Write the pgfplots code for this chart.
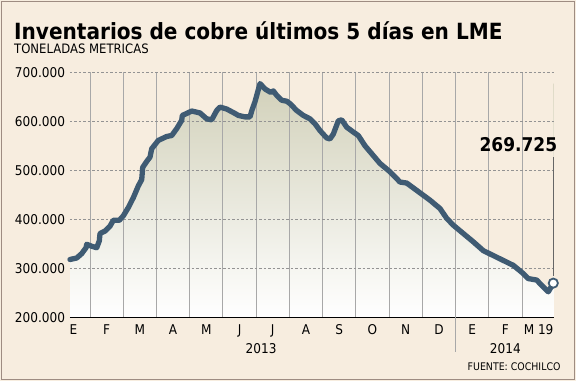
\documentclass[border=0pt]{standalone}
\usepackage{fontspec}
\setmainfont{DejaVu Sans Condensed}
\usepackage{pgfplots}
\usepackage{pgfplotstable}
\pgfplotsset{compat=1.18}
\definecolor{bg}{HTML}{F7EDDF}
\definecolor{framec}{HTML}{9E8C82}
\definecolor{linec}{HTML}{3F5B73}
\definecolor{filltop}{HTML}{D2D1BA}
\definecolor{vgrid}{HTML}{A8A8A8}
\pgfplotstableread{
x y
0.398 318000
0.600 321000
0.750 330000
0.880 342000
0.901 349000
1.051 345000
1.202 342000
1.280 356000
1.301 371000
1.451 376000
1.602 386000
1.701 398000
1.882 398000
2.002 407000
2.153 424000
2.303 444000
2.453 468000
2.556 481000
2.586 506000
2.706 518000
2.806 527000
2.857 544000
3.055 561000
3.308 569000
3.459 571000
3.609 585000
3.760 602000
3.778 612000
3.910 616000
4.060 621000
4.310 617000
4.512 605000
4.662 603000
4.813 622000
4.912 629000
5.114 625000
5.364 616000
5.463 612000
5.664 609000
5.815 609000
5.875 623000
5.965 640000
6.116 677000
6.266 666000
6.438 659000
6.516 662000
6.618 653000
6.769 643000
6.919 641000
7.019 636000
7.220 622000
7.419 612000
7.620 605000
7.771 595000
7.921 581000
8.123 566000
8.222 564000
8.322 574000
8.472 601000
8.574 603000
8.725 588000
8.924 578000
9.074 571000
9.276 550000
9.426 538000
9.727 514000
10.028 497000
10.329 476000
10.530 474000
10.831 459000
11.232 439000
11.532 422000
11.734 402000
11.933 388000
12.234 371000
12.535 354000
12.836 336000
13.137 326000
13.438 316000
13.739 306000
13.991 292000
14.190 279000
14.443 276000
14.593 265000
14.792 252000
14.942 269725
}\cobre
\pgfplotsset{
  base/.style={scale only axis, width=484bp, height=245bp, at={(0,0)}, anchor=south west,
    xmin=0.398, xmax=14.963, ymin=200000, ymax=700000, clip=false},
}
\begin{document}
\begin{tikzpicture}
\useasboundingbox (-70bp,-63.7bp) rectangle (506bp,317.3bp);
\fill[bg] (-70bp,-63.7bp) rectangle (506bp,317.3bp);
\draw[framec, line width=1.5bp] (-68.5bp,-62.2bp) rectangle (504.5bp,315.8bp);
\shade[top color=filltop, bottom color=white] (0bp,0bp) rectangle (483.3bp,233.7bp);
\node[anchor=base west, inner sep=0, font=\bfseries\fontsize{22.4}{24}\selectfont] at (-56bp,277.9bp) {Inventarios de cobre últimos 5 días en LME};
\node[anchor=base west, inner sep=0, font=\fontsize{13}{14}\selectfont] at (-56bp,263.8bp) {TONELADAS METRICAS};
\node[anchor=base east, inner sep=0, font=\fontsize{10.5}{12}\selectfont] at (490.7bp,-52.7bp) {FUENTE: COCHILCO};
% mask above the curve
\begin{axis}[base, hide axis]
\addplot[fill=bg, draw=none] table[x=x,y=y] {\cobre} -- (axis cs:14.942,705000) -- (axis cs:0.398,705000) -- cycle;
\end{axis}
% vertical month grid
\begin{axis}[base, axis line style={draw=none}, xtick={1,...,14}, xticklabels={}, ytick=\empty,
  xmajorgrids=true, tick style={draw=none},
  grid style={solid, draw=vgrid, line width=1bp}]
\end{axis}
\begin{axis}[
  base,
  axis x line*=bottom, axis y line*=left,
  y axis line style={draw=none},
  x axis line style={black, line width=1.2bp},
  xtick={0.5,1.5,...,14.5},
  xticklabels={E,F,M,A,M,J,J,A,S,O,N,D,E,F,M 19},
  ytick={200000,300000,...,700000},
  major tick length=0pt,
  ymajorgrids,
  major grid style={dash pattern=on 2.5bp off 2bp, draw=gray!85, line width=0.6bp},
  scaled y ticks=false,
  /pgf/number format/fixed,
  /pgf/number format/1000 sep={.},
  /pgf/number format/assume math mode=true,
  tick label style={font=\fontsize{13.5}{15}\selectfont},
  x tick label style={yshift=-4bp},
  y tick label style={xshift=-1.5bp},
]
\addplot[linec, line width=5.3bp, line join=round, line cap=round] table[x=x,y=y] {\cobre};
\draw[gray!80!black, line width=1bp] (axis cs:14.942,284000) -- (axis cs:14.942,527000);
\addplot[only marks, mark=*, mark size=4.6bp, mark options={fill=white, draw=linec, line width=1.8bp}] coordinates {(14.942,269725)};
\node[anchor=base east, inner sep=0, font=\bfseries\fontsize{19}{20}\selectfont] at (axis cs:15.063,538000) {269.725};
\draw[vgrid, line width=1bp] (axis cs:12,200000) -- ([yshift=-35bp]axis cs:12,200000);
\node[anchor=base, inner sep=0, font=\fontsize{13.5}{15}\selectfont] at (axis cs:6.15,200000) [yshift=-36.5bp] {2013};
\node[anchor=base, inner sep=0, font=\fontsize{13.5}{15}\selectfont] at (axis cs:13.5,200000) [yshift=-36.5bp] {2014};
\end{axis}
\end{tikzpicture}
\end{document}
